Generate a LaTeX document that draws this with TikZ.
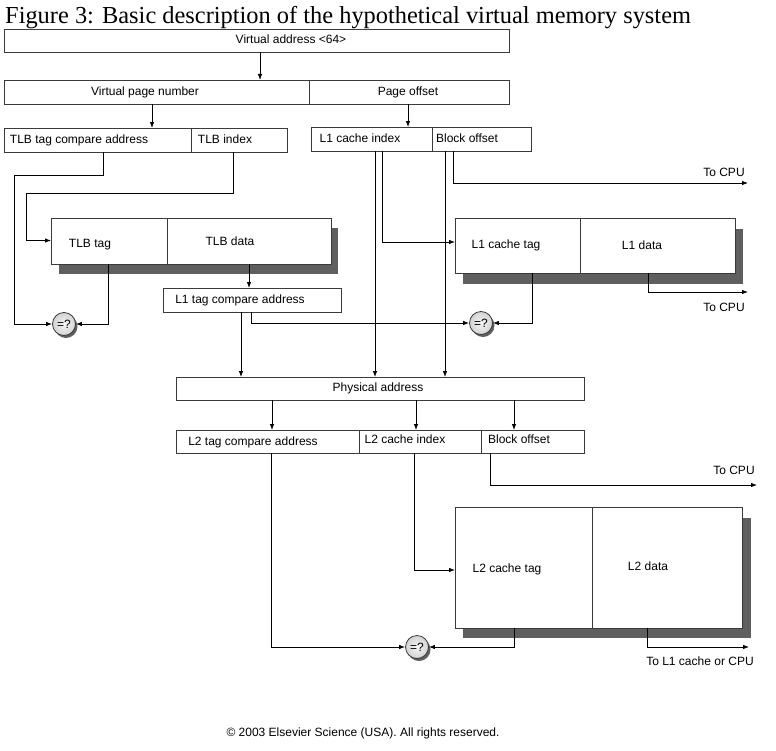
\documentclass[tikz,border=0pt]{standalone}
\usepackage{fontspec}
\setmainfont{Liberation Serif}
\setsansfont{Liberation Sans}
\usetikzlibrary{arrows.meta}
\pgfdeclarelayer{bg}
\pgfsetlayers{bg,main}
\definecolor{shadec}{HTML}{5F5F5F}
\definecolor{edgec}{HTML}{3A3A3A}
\newcommand\bx[5]{\node[box,minimum width=#4bp,minimum height=#5bp] (#1) at (#2,#3) {};}
\begin{document}
\begin{tikzpicture}[x=1bp,y=-1bp,
  box/.style={draw=edgec, line width=0.8bp, fill=white, inner sep=0, outer sep=0, anchor=north west},
  lbl/.style={font=\sffamily\fontsize{12bp}{14bp}\selectfont, inner sep=0, text height=8.6bp, text depth=2.5bp},
  conn/.style={draw=black, line width=0.8bp},
  arr/.style={conn, -{Latex[length=6bp,width=4.5bp]}},
  eqc/.style={circle, draw=edgec, line width=0.8bp, inner color=gray!8, outer color=gray!35, minimum size=23bp, inner sep=0,
    font=\sffamily\fontsize{12bp}{14bp}\selectfont},
]
\useasboundingbox (0,0) rectangle (776,751);

\node[anchor=base west, font=\fontsize{24.4bp}{28bp}\selectfont, inner sep=0] (title) at (5,24)
  {Figure 3: Basic description of the hypothetical virtual memory system};

% boxes
\bx{va}{4}{29}{505}{23}
\bx{vpn}{4}{80}{305}{24}
\bx{po}{309}{80}{200}{24}
\bx{tlbc}{4}{128}{187}{24}
\bx{tlbi}{191}{128}{96}{24}
\bx{lonei}{311}{127}{121}{24}
\bx{boone}{432}{127}{99}{24}
\bx{tlbtag}{51}{218}{116}{46}
\bx{tlbdata}{167}{218}{164}{46}
\bx{lonecmp}{163}{288}{178}{24}
\bx{lonetag}{455}{218}{125}{55}
\bx{lonedata}{580}{218}{155}{55}
\bx{pa}{176}{377}{408}{23}
\bx{ltwoc}{176}{430}{183}{23}
\bx{ltwoi}{359}{430}{122}{23}
\bx{botwo}{481}{430}{103}{23}
\bx{ltwotag}{455}{507}{137}{121}
\bx{ltwodata}{592}{507}{150}{121}

% comparators
\node[eqc] (eqa) at (64,324) {=?};
\node[eqc] (eqb) at (481,323) {=?};
\node[eqc] (eqc) at (417,647) {=?};

\begin{pgfonlayer}{bg}
\fill[white] (0,0) rectangle (776,751);
\fill[shadec] ([shift={(8,10)}]tlbtag.north west) rectangle ([shift={(7,10)}]tlbdata.south east);
\fill[shadec] ([shift={(8,11)}]lonetag.north west) rectangle ([shift={(8,11)}]lonedata.south east);
\fill[shadec] ([shift={(8,11)}]ltwotag.north west) rectangle ([shift={(9,10)}]ltwodata.south east);
\foreach \e in {eqa,eqb,eqc}
  {\fill[shadec] ([shift={(2,2.5)}]\e.center) circle[radius=11.5bp];}
\end{pgfonlayer}

% labels
\node[lbl] (tva) at (291,40) {Virtual address <64>};
\node[lbl] (tvpn) at (145,92) {Virtual page number};
\node[lbl] (tpo) at (408,92) {Page offset};
\node[lbl] (ttlbc) at (79,140) {TLB tag compare address};
\node[lbl] (ttlbi) at (225,140) {TLB index};
\node[lbl] (tlonei) at (360,139) {L1 cache index};
\node[lbl] (tboone) at (467,139) {Block offset};
\node[lbl] (ttlbtag) at (90,244) {TLB tag};
\node[lbl] (ttlbdata) at (230,242) {TLB data};
\node[lbl] (tlonecmp) at (240,300) {L1 tag compare address};
\node[lbl] (tlonetag) at (506,245) {L1 cache tag};
\node[lbl] (tlonedata) at (642,246) {L1 data};
\node[lbl] (tcpua) at (724,173) {To CPU};
\node[lbl] (tcpub) at (724,308) {To CPU};
\node[lbl] (tpa) at (378,388) {Physical address};
\node[lbl] (tltwoc) at (253,442) {L2 tag compare address};
\node[lbl] (tltwoi) at (405,440) {L2 cache index};
\node[lbl] (tbotwo) at (519,440) {Block offset};
\node[lbl] (tcpuc) at (734,471) {To CPU};
\node[lbl] (tltwotag) at (507,569) {L2 cache tag};
\node[lbl] (tltwodata) at (648,567) {L2 data};
\node[lbl] (tcpud) at (700,662) {To L1 cache or CPU};
\node[lbl] (tcopy) at (363,733) {\textcopyright{} 2003 Elsevier Science (USA). All rights reserved.};

% column coordinates
\foreach \c in {260,152,408,103,108,233,249,241,251,375,382,445,453,532,648,272,416,514,271,414,490,647}
  {\coordinate (c\c) at (\c,0);}
\coordinate (cpua) at (748,183);
\coordinate (cpub) at (748,292);
\coordinate (cpuc) at (757,485);
\coordinate (cpud) at (749,647);

% connectors
\draw[arr] (va.south -| c260) -- (vpn.north -| c260);
\draw[arr] (vpn.south -| c152) -- (tlbc.north -| c152);
\draw[arr] (po.south -| c408) -- (lonei.north -| c408);
\draw[arr] (tlbc.south -| c103) -- (103,175) -- (14,175) |- (eqa.west);
\draw[arr] (tlbi.south -| c233) -- (233,193) -- (26,193) |- ([yshift=0.5bp]tlbtag.west);
\draw[arr] (tlbtag.south -| c108) |- (eqa.east);
\draw[arr] (tlbdata.south -| c249) -- (lonecmp.north -| c249);
\draw[arr] (lonecmp.south -| c241) -- (pa.north -| c241);
\draw[arr] (lonecmp.south -| c251) |- (eqb.west);
\draw[arr] (lonei.south -| c375) -- (pa.north -| c375);
\draw[arr] (lonei.south -| c382) |- ([yshift=3.5bp]lonetag.west);
\draw[arr] (boone.south -| c445) -- (pa.north -| c445);
\draw[arr] (boone.south -| c453) |- (cpua);
\draw[arr] (lonetag.south -| c532) |- (eqb.east);
\draw[arr] (lonedata.south -| c648) |- (cpub);
\draw[arr] (pa.south -| c272) -- (ltwoc.north -| c272);
\draw[arr] (pa.south -| c416) -- (ltwoi.north -| c416);
\draw[arr] (pa.south -| c514) -- (botwo.north -| c514);
\draw[arr] (ltwoc.south -| c271) |- (eqc.west);
\draw[arr] (ltwoi.south -| c414) |- ([yshift=-2.5bp]ltwotag.west);
\draw[arr] (botwo.south -| c490) |- (cpuc);
\draw[arr] (ltwotag.south -| c514) |- (eqc.east);
\draw[arr] (ltwodata.south -| c647) |- (cpud);
\end{tikzpicture}
\end{document}
